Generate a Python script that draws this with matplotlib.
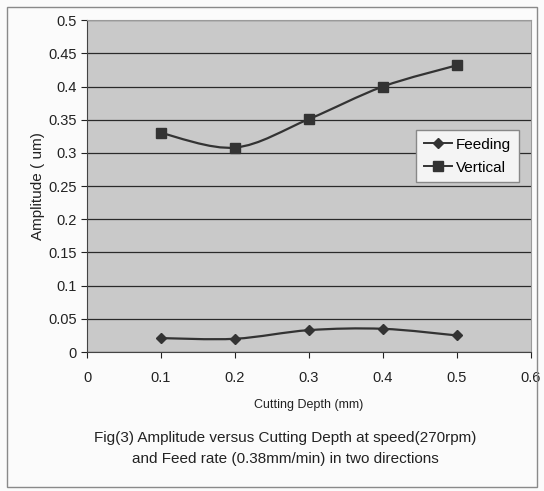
import matplotlib.pyplot as plt
from matplotlib.path import Path
from matplotlib.patches import PathPatch, Rectangle
from matplotlib.lines import Line2D

plt.rcParams['font.family'] = ['Liberation Sans Narrow', 'Liberation Sans', 'DejaVu Sans']

# data
depth = [0.1, 0.2, 0.3, 0.4, 0.5]
feeding = [0.021, 0.020, 0.033, 0.035, 0.025]
vertical = [0.330, 0.308, 0.351, 0.400, 0.432]
y_ticks = [0, 0.05, 0.1, 0.15, 0.2, 0.25, 0.3, 0.35, 0.4, 0.45, 0.5]
x_ticks = [0, 0.1, 0.2, 0.3, 0.4, 0.5, 0.6]


def smooth_path(xs, ys):
    # Excel-like smoothed line, drawn as cubic bezier segments
    verts = [(xs[0], ys[0])]
    codes = [Path.MOVETO]
    n = len(xs)
    for i in range(n - 1):
        x0, y0 = (xs[i - 1], ys[i - 1]) if i > 0 else (xs[i], ys[i])
        x1, y1 = xs[i], ys[i]
        x2, y2 = xs[i + 1], ys[i + 1]
        x3, y3 = (xs[i + 2], ys[i + 2]) if i + 2 < n else (x2, y2)
        c1 = (x1 + (x2 - x0) / 6, y1 + (y2 - y0) / 6)
        c2 = (x2 - (x3 - x1) / 6, y2 - (y3 - y1) / 6)
        verts += [c1, c2, (x2, y2)]
        codes += [Path.CURVE4] * 3
    return Path(verts, codes)


fig = plt.figure(figsize=(5.44, 4.91), dpi=100)
fig.patch.set_facecolor('#fbfbfb')
fig.patches.append(Rectangle((0.012, 0.008), 0.975, 0.978, transform=fig.transFigure,
                             fill=False, edgecolor='#8a8a8a', linewidth=1.0))

ax = fig.add_axes([0.16, 0.283, 0.816, 0.676])
ax.set_facecolor('#c9c9c9')

line_col = '#333333'
for ys, mk, ms in [(feeding, 'D', 5), (vertical, 's', 6.5)]:
    ax.add_patch(PathPatch(smooth_path(depth, ys), fill=False, edgecolor=line_col, linewidth=1.6))
    ax.plot(depth, ys, linestyle='none', marker=mk, markersize=ms, color=line_col)

ax.set_xlim(0, 0.6)
ax.set_ylim(0, 0.5)
ax.set_xticks(x_ticks)
ax.set_xticklabels(['0', '0.1', '0.2', '0.3', '0.4', '0.5', '0.6'])
ax.set_yticks(y_ticks)
ax.set_yticklabels(['0', '0.05', '0.1', '0.15', '0.2', '0.25', '0.3', '0.35', '0.4', '0.45', '0.5'])
ax.tick_params(axis='both', labelsize=10.5, colors='#222222', length=4, width=0.8)
ax.tick_params(axis='x', pad=10)
ax.grid(axis='y', color='#2a2a2a', linewidth=0.9)
ax.set_axisbelow(True)
for side in ['top', 'right']:
    ax.spines[side].set_color('#9a9a9a')
for side in ['left', 'bottom']:
    ax.spines[side].set_color('#444444')

ax.set_ylabel('Amplitude ( um)', fontsize=11, color='#222222', labelpad=2)
ax.set_xlabel('Cutting Depth (mm)', fontsize=9, color='#222222', labelpad=10)

handles = [Line2D([], [], color=line_col, marker='D', markersize=5, linewidth=1.4),
           Line2D([], [], color=line_col, marker='s', markersize=6.5, linewidth=1.4)]
leg = ax.legend(handles, ['Feeding', 'Vertical'], loc='center right',
                bbox_to_anchor=(0.99, 0.59), fontsize=11, frameon=True, fancybox=False,
                handlelength=1.8, handletextpad=0.3, borderpad=0.5, labelspacing=0.6)
leg.get_frame().set_edgecolor('#888888')
leg.get_frame().set_facecolor('#f4f4f4')
leg.get_frame().set_alpha(1)

fig.text(0.525, 0.087, 'Fig(3) Amplitude versus Cutting Depth at speed(270rpm)\n'
         'and Feed rate (0.38mm/min) in two directions',
         ha='center', va='center', fontsize=11, color='#222222', linespacing=1.6)

fig.savefig('out.png', dpi=100)
